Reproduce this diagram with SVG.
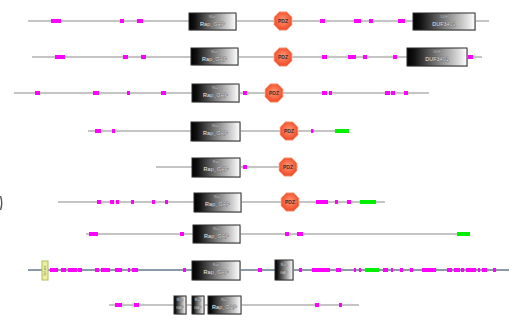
<svg xmlns="http://www.w3.org/2000/svg" xmlns:xlink="http://www.w3.org/1999/xlink" width="517" height="322" viewBox="0 0 517 322">
<style>
.bb{stroke:#c4c4c4;stroke-width:2;fill:none}
.bb2{stroke:#8a9aab;stroke-width:2.2;fill:none}
.m{fill:#ff00ff}
.g{fill:#00ee00}
.dom{fill:url(#gr);stroke:#2a2a2a;stroke-width:1}
.sh{fill:#d8d8d8}
.t1{font-family:"Liberation Sans",Arial,sans-serif;font-size:3.5px;fill:#d8d8d8;stroke:#555;stroke-width:0.3;paint-order:stroke;text-anchor:middle}
.t2{font-family:"Liberation Sans",Arial,sans-serif;font-size:5.5px;fill:#eeeeee;stroke:#444;stroke-width:0.5;paint-order:stroke;text-anchor:middle}
.tp{font-family:"Liberation Sans",Arial,sans-serif;font-size:5px;fill:#3a2a2a;text-anchor:middle;font-weight:bold}
</style>
<defs>
<linearGradient id="gr" x1="0" y1="0" x2="1" y2="0">
<stop offset="0" stop-color="#000"/>
<stop offset="0.12" stop-color="#111"/>
<stop offset="0.55" stop-color="#888"/>
<stop offset="1" stop-color="#fff"/>
</linearGradient>
<radialGradient id="rg" cx="0.5" cy="0.45" r="0.6">
<stop offset="0" stop-color="#ff9a78"/>
<stop offset="0.6" stop-color="#f7623e"/>
<stop offset="1" stop-color="#e8441f"/>
</radialGradient>
<g id="pdz">
<polygon points="9,3.8 3.7,9.2 -3.7,9.2 -9,3.8 -9,-3.8 -3.7,-9.2 3.7,-9.2 9,-3.8" fill="url(#rg)" stroke="#ffb8a0" stroke-width="0.8"/>
<text class="tp" x="0" y="1.8">PDZ</text>
</g>
</defs>
<rect width="517" height="322" fill="#fff"/>

<g id="connectors">
<line class="bb" x1="28" y1="21" x2="489" y2="21"/>
<line class="bb" x1="32" y1="57" x2="482" y2="57"/>
<line class="bb" x1="14" y1="93" x2="429" y2="93"/>
<line class="bb" x1="88" y1="131" x2="349" y2="131"/>
<line class="bb" x1="156" y1="167" x2="298" y2="167"/>
<line class="bb" x1="58" y1="202" x2="385" y2="202"/>
<line class="bb" x1="86" y1="234" x2="470" y2="234"/>
<line class="bb2" x1="28" y1="270" x2="509" y2="270"/>
<line class="bb" x1="109" y1="305" x2="359" y2="305"/>
</g>

<g id="row1">
<rect class="m" x="51" y="19" width="10" height="4"/>
<rect class="m" x="120" y="19" width="4" height="4"/>
<rect class="m" x="137" y="19" width="6" height="4"/>
<rect class="m" x="320" y="19" width="5" height="4"/>
<rect class="m" x="354" y="19" width="7" height="4"/>
<rect class="m" x="369" y="19" width="4" height="4"/>
<rect class="m" x="398" y="19" width="7" height="4"/>
<rect class="sh" x="190" y="14" width="47" height="17"/>
<rect class="dom" x="189" y="13" width="47" height="17"/>
<text class="t1" x="212.5" y="18">Rap</text><text class="t2" x="212.5" y="25.5">Rap_GAP</text>
<use xlink:href="#pdz" href="#pdz" x="283" y="21"/>
<rect class="sh" x="414" y="14" width="62" height="17"/>
<rect class="dom" x="413" y="13" width="62" height="17"/>
<text class="t1" x="444" y="18">DUF</text><text class="t2" x="444" y="25.5">DUF3401</text>
</g>

<g id="row2">
<rect class="m" x="55" y="55" width="10" height="4"/>
<rect class="m" x="123" y="55" width="5" height="4"/>
<rect class="m" x="141" y="55" width="5" height="4"/>
<rect class="m" x="322" y="55" width="5" height="4"/>
<rect class="m" x="348" y="55" width="8" height="4"/>
<rect class="m" x="363" y="55" width="4" height="4"/>
<rect class="m" x="393" y="55" width="4" height="4"/>
<rect class="m" x="468" y="55" width="5" height="4"/>
<rect class="sh" x="192" y="49" width="47" height="17"/>
<rect class="dom" x="191" y="48" width="47" height="17"/>
<text class="t1" x="214.5" y="53">Rap</text><text class="t2" x="214.5" y="60.5">Rap_GAP</text>
<use xlink:href="#pdz" href="#pdz" x="283" y="57"/>
<rect class="sh" x="408" y="49" width="60" height="18"/>
<rect class="dom" x="407" y="48" width="60" height="18"/>
<text class="t1" x="437" y="53">DUF</text><text class="t2" x="437" y="61">DUF3401</text>
</g>

<g id="row3">
<rect class="m" x="35" y="91" width="5" height="4"/>
<rect class="m" x="93" y="91" width="6" height="4"/>
<rect class="m" x="127" y="91" width="3" height="4"/>
<rect class="m" x="161" y="91" width="5" height="4"/>
<rect class="m" x="243" y="91" width="4" height="4"/>
<rect class="m" x="322" y="91" width="5" height="4"/>
<rect class="m" x="329" y="91" width="3" height="4"/>
<rect class="m" x="385" y="91" width="5" height="4"/>
<rect class="m" x="391" y="91" width="4" height="4"/>
<rect class="m" x="404" y="91" width="4" height="4"/>
<rect class="sh" x="193" y="85" width="47" height="18"/>
<rect class="dom" x="192" y="84" width="47" height="18"/>
<text class="t1" x="215.5" y="89">Rap</text><text class="t2" x="215.5" y="97">Rap_GAP</text>
<use xlink:href="#pdz" href="#pdz" x="274" y="93"/>
</g>

<g id="row4">
<rect class="m" x="95" y="129" width="6" height="4"/>
<rect class="m" x="112" y="129" width="3" height="4"/>
<rect class="m" x="311" y="129" width="2.5" height="4"/>
<rect class="g" x="335" y="129" width="14" height="4"/>
<rect class="sh" x="192" y="123" width="49" height="19"/>
<rect class="dom" x="191" y="122" width="49" height="19"/>
<text class="t1" x="215.5" y="127">Rap</text><text class="t2" x="215.5" y="135">Rap_GAP</text>
<use xlink:href="#pdz" href="#pdz" x="289" y="131"/>
</g>

<g id="row5">
<rect class="m" x="243" y="165" width="4" height="4"/>
<rect class="sh" x="193" y="159" width="48" height="19"/>
<rect class="dom" x="192" y="158" width="48" height="19"/>
<text class="t1" x="216" y="163">Rap</text><text class="t2" x="216" y="171">Rap_GAP</text>
<use xlink:href="#pdz" href="#pdz" x="288" y="167"/>
</g>

<g id="row6">
<path d="M0.5,196 Q3,203 0.5,210" stroke="#555" stroke-width="1.4" fill="none"/>
<rect class="m" x="97" y="200" width="4" height="4"/>
<rect class="m" x="110" y="200" width="4" height="4"/>
<rect class="m" x="116" y="200" width="3" height="4"/>
<rect class="m" x="131" y="200" width="3" height="4"/>
<rect class="m" x="152" y="200" width="3" height="4"/>
<rect class="m" x="165" y="200" width="3" height="4"/>
<rect class="m" x="316" y="200" width="12" height="4"/>
<rect class="m" x="335" y="200" width="3" height="4"/>
<rect class="m" x="347" y="200" width="4" height="4"/>
<rect class="g" x="360" y="200" width="16" height="4"/>
<rect class="sh" x="195" y="194" width="47" height="19"/>
<rect class="dom" x="194" y="193" width="47" height="19"/>
<text class="t1" x="217.5" y="198">Rap</text><text class="t2" x="217.5" y="206">Rap_GAP</text>
<use xlink:href="#pdz" href="#pdz" x="290" y="202"/>
</g>

<g id="row7">
<rect class="m" x="89" y="232" width="9" height="4"/>
<rect class="m" x="180" y="232" width="4" height="4"/>
<rect class="m" x="285" y="232" width="4" height="4"/>
<rect class="m" x="297" y="232" width="6" height="4"/>
<rect class="g" x="457" y="232" width="13" height="4"/>
<rect class="sh" x="194" y="226" width="47" height="18"/>
<rect class="dom" x="193" y="225" width="47" height="18"/>
<text class="t1" x="216.5" y="230">Rap</text><text class="t2" x="216.5" y="238">Rap_GAP</text>
</g>

<g id="row8">
<rect x="42" y="261" width="6" height="19" fill="#eef0a0" stroke="#a8c060" stroke-width="1"/>
<text font-family="Liberation Sans,Arial,sans-serif" font-size="3px" fill="#6a7a40" text-anchor="middle" transform="translate(46,270.5) rotate(-90)">GoLoco</text>
<rect class="m" x="50" y="268" width="8" height="4"/>
<rect class="m" x="61" y="268" width="5" height="4"/>
<rect class="m" x="68" y="268" width="9" height="4"/>
<rect class="m" x="78" y="268" width="4" height="4"/>
<rect class="m" x="95" y="268" width="4" height="4"/>
<rect class="m" x="101" y="268" width="9" height="4"/>
<rect class="m" x="115" y="268" width="7" height="4"/>
<rect class="m" x="128" y="268" width="2" height="4"/>
<rect class="m" x="132" y="268" width="6" height="4"/>
<rect class="m" x="183" y="268" width="3" height="4"/>
<rect class="m" x="258" y="268" width="4" height="4"/>
<rect class="m" x="299" y="268" width="3" height="4"/>
<rect class="m" x="312" y="268" width="18" height="4"/>
<rect class="m" x="336" y="268" width="5" height="4"/>
<rect class="m" x="354" y="268" width="2" height="4"/>
<rect class="m" x="359" y="268" width="2" height="4"/>
<rect class="g" x="365" y="268" width="14" height="4"/>
<rect class="m" x="383" y="268" width="5" height="4"/>
<rect class="m" x="391" y="268" width="2" height="4"/>
<rect class="m" x="400" y="268" width="3" height="4"/>
<rect class="m" x="410" y="268" width="3" height="4"/>
<rect class="m" x="422" y="268" width="14" height="4"/>
<rect class="m" x="447" y="268" width="5" height="4"/>
<rect class="m" x="454" y="268" width="6" height="4"/>
<rect class="m" x="461" y="268" width="3" height="4"/>
<rect class="m" x="466" y="268" width="10" height="4"/>
<rect class="m" x="478" y="268" width="2" height="4"/>
<rect class="m" x="482" y="268" width="5" height="4"/>
<rect class="m" x="493" y="268" width="3" height="4"/>
<rect class="sh" x="193" y="262" width="48" height="19"/>
<rect class="dom" x="192" y="261" width="48" height="19"/>
<text class="t1" x="216" y="266">Rap</text><text class="t2" x="216" y="274">Rap_GAP</text>
<rect class="sh" x="276" y="261" width="18" height="20"/>
<rect class="dom" x="275" y="260" width="18" height="20"/>
<text class="t1" x="284" y="266">Rap</text><text class="t1" x="284" y="274">GAP</text>
</g>

<g id="row9">
<rect class="m" x="115" y="303" width="7" height="4"/>
<rect class="m" x="134" y="303" width="5" height="4"/>
<rect class="m" x="315" y="303" width="4" height="4"/>
<rect class="m" x="339" y="303" width="3" height="4"/>
<rect class="sh" x="175" y="297" width="12" height="18"/>
<rect class="dom" x="174" y="296" width="12" height="18"/>
<text class="t1" x="180" y="301">Rap</text><text class="t1" x="180" y="309">GAP</text>
<rect class="sh" x="193" y="297" width="12" height="18"/>
<rect class="dom" x="192" y="296" width="12" height="18"/>
<text class="t1" x="198" y="301">Rap</text><text class="t1" x="198" y="309">GAP</text>
<rect class="sh" x="209" y="297" width="33" height="18"/>
<rect class="dom" x="208" y="296" width="33" height="18"/>
<text class="t1" x="224.5" y="301">Rap</text><text class="t2" x="224.5" y="309">Rap_GAP</text>
</g>
</svg>
